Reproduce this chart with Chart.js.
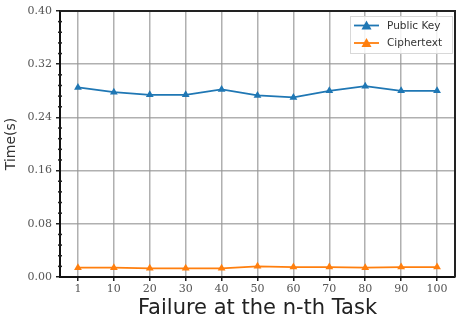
<!DOCTYPE html>
<html>
<head>
<meta charset="utf-8">
<script src="https://cdn.jsdelivr.net/npm/chart.js@4/dist/chart.umd.min.js"></script>
<style>
  html, body { margin: 0; padding: 0; background: #fff; }
  #wrap { width: 456px; height: 321px; position: relative; }
</style>
</head>
<body>
<div id="wrap"><canvas id="c" width="456" height="321"></canvas></div>
<script>
// Failure position (n-th task) and measured times in seconds
const categories = ['1', '10', '20', '30', '40', '50', '60', '70', '80', '90', '100'];
const publicKeyTimes = [0.285, 0.278, 0.274, 0.274, 0.282, 0.273, 0.270, 0.280, 0.287, 0.280, 0.280];
const ciphertextTimes = [0.014, 0.014, 0.013, 0.013, 0.013, 0.016, 0.015, 0.015, 0.014, 0.015, 0.015];
const yTicks = [0.00, 0.08, 0.16, 0.24, 0.32, 0.40];
const seriesNames = ['Public Key', 'Ciphertext'];

const BLUE = '#1f77b4';
const ORANGE = '#ff7f0e';
const GRID = 'rgba(150,150,150,0.75)';
const tickFont = { family: 'DejaVu Serif', size: 11 };

// Draws the frame, minor y ticks and the legend box
const frameAndLegend = {
  id: 'frameAndLegend',
  afterDraw(chart) {
    const { ctx, chartArea: a, scales } = chart;
    ctx.save();
    // top and right spines
    ctx.strokeStyle = '#222';
    ctx.lineWidth = 2;
    ctx.beginPath();
    ctx.moveTo(a.left, a.top);
    ctx.lineTo(a.right, a.top);
    ctx.lineTo(a.right, a.bottom);
    ctx.stroke();
    // minor ticks on the y axis
    const y = scales.y;
    ctx.lineWidth = 1.5;
    for (let i = 0; i < yTicks.length - 1; i++) {
      const step = (yTicks[i + 1] - yTicks[i]) / 5;
      for (let k = 1; k < 5; k++) {
        const py = y.getPixelForValue(yTicks[i] + step * k);
        ctx.beginPath();
        ctx.moveTo(a.left - 2, py);
        ctx.lineTo(a.left + 2, py);
        ctx.stroke();
      }
    }
    // legend
    const bx = a.right - 105, by = a.top + 5, bw = 102, bh = 37;
    ctx.fillStyle = 'rgba(255,255,255,0.85)';
    ctx.strokeStyle = '#d8d8d8';
    ctx.lineWidth = 1;
    ctx.fillRect(bx, by, bw, bh);
    ctx.strokeRect(bx + 0.5, by + 0.5, bw, bh);
    const colors = [BLUE, ORANGE];
    ctx.font = '10.5px "DejaVu Sans"';
    ctx.textBaseline = 'middle';
    seriesNames.forEach((name, i) => {
      const ly = by + 9.5 + i * 17.5;
      ctx.strokeStyle = colors[i];
      ctx.lineWidth = 1.8;
      ctx.beginPath();
      ctx.moveTo(bx + 4, ly);
      ctx.lineTo(bx + 29, ly);
      ctx.stroke();
      ctx.fillStyle = colors[i];
      ctx.beginPath();
      ctx.moveTo(bx + 16.5, ly - 5);
      ctx.lineTo(bx + 21.5, ly + 4);
      ctx.lineTo(bx + 11.5, ly + 4);
      ctx.closePath();
      ctx.fill();
      ctx.fillStyle = '#333';
      ctx.fillText(name, bx + 37, ly + 0.5);
    });
    ctx.restore();
  }
};

new Chart(document.getElementById('c'), {
  type: 'line',
  data: {
    labels: categories,
    datasets: [
      {
        label: seriesNames[0],
        data: publicKeyTimes,
        borderColor: BLUE,
        backgroundColor: BLUE,
        borderWidth: 1.8,
        pointStyle: 'triangle',
        pointRadius: 4.5,
        pointBorderWidth: 0,
        tension: 0
      },
      {
        label: seriesNames[1],
        data: ciphertextTimes,
        borderColor: ORANGE,
        backgroundColor: ORANGE,
        borderWidth: 1.8,
        pointStyle: 'triangle',
        pointRadius: 4.5,
        pointBorderWidth: 0,
        tension: 0
      }
    ]
  },
  options: {
    responsive: false,
    animation: false,
    layout: { autoPadding: false, padding: { top: 11, right: 1, left: 0, bottom: 0 } },
    plugins: { legend: { display: false }, tooltip: { enabled: false } },
    scales: {
      x: {
        type: 'category',
        offset: true,
        afterFit(s) { s.height = 44; s.paddingLeft = 0; s.paddingRight = 0; },
        grid: {
          color: GRID,
          lineWidth: 1.5,
          offset: false,
          drawTicks: true,
          tickLength: 4,
          tickColor: '#222',
          tickWidth: 1.5
        },
        border: { display: true, color: '#111', width: 2 },
        ticks: { font: tickFont, color: '#555', padding: 2, maxRotation: 0, autoSkip: false },
        title: {
          display: true,
          text: 'Failure at the n-th Task',
          font: { family: 'DejaVu Sans', size: 21 },
          color: '#222',
          padding: { top: 0, bottom: 0 }
        }
      },
      y: {
        min: 0,
        max: 0.40,
        afterFit(s) { s.width = 60; },
        afterBuildTicks(s) { s.ticks = yTicks.map(v => ({ value: v })); },
        grid: {
          color: GRID,
          lineWidth: 1.5,
          drawTicks: true,
          tickLength: 4,
          tickColor: '#222',
          tickWidth: 1.5
        },
        border: { display: true, color: '#111', width: 2 },
        ticks: {
          font: tickFont,
          color: '#555',
          padding: 4,
          callback: v => Number(v).toFixed(2)
        },
        title: {
          display: true,
          text: 'Time(s)',
          font: { family: 'DejaVu Sans', size: 14 },
          color: '#333',
          padding: { top: 3, bottom: 0 }
        }
      }
    }
  },
  plugins: [frameAndLegend]
});
</script>
</body>
</html>
